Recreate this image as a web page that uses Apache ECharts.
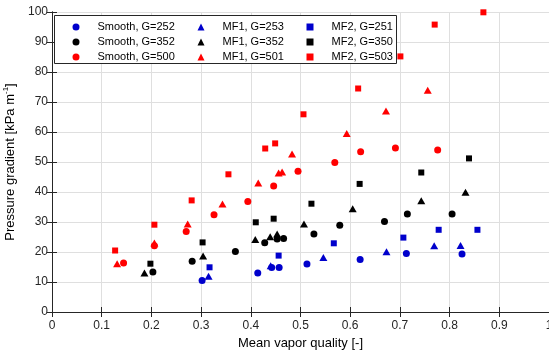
<!DOCTYPE html>
<html><head><meta charset="utf-8">
<script src="https://cdn.jsdelivr.net/npm/echarts@6/dist/echarts.min.js"></script>
<style>html,body{margin:0;padding:0;background:#fff}#c{width:549px;height:355px}</style>
</head><body><div id="c"></div>
<script>
const xName = 'Mean vapor quality [-]';
const yNameMain = 'Pressure gradient [kPa m';
const yNameSup = '-1';
const seriesNames = ['Smooth, G=252','Smooth, G=352','Smooth, G=500','MF1, G=253','MF1, G=352','MF1, G=501','MF2, G=251','MF2, G=350','MF2, G=503'];
const smooth252 = [[0.302,10.5],[0.414,13.0],[0.442,14.8],[0.457,14.8],[0.513,16.0],[0.620,17.5],[0.713,19.5],[0.825,19.3]];
const smooth352 = [[0.203,13.3],[0.282,16.9],[0.369,20.2],[0.428,23.1],[0.453,24.3],[0.466,24.5],[0.527,26.0],[0.579,28.9],[0.669,30.2],[0.715,32.7],[0.805,32.7]];
const smooth500 = [[0.144,16.3],[0.206,22.1],[0.270,26.8],[0.326,32.4],[0.394,36.8],[0.446,42.0],[0.495,46.9],[0.569,49.8],[0.621,53.4],[0.691,54.7],[0.776,54.0]];
const mf1_253 = [[0.315,11.9],[0.440,15.4],[0.546,18.2],[0.673,20.1],[0.769,22.1],[0.822,22.2]];
const mf1_352 = [[0.186,13.0],[0.304,18.7],[0.409,24.2],[0.439,25.1],[0.453,26.0],[0.507,29.3],[0.605,34.4],[0.743,37.1],[0.832,39.9]];
const mf1_501 = [[0.131,16.1],[0.206,23.0],[0.273,29.3],[0.343,36.0],[0.415,43.0],[0.456,46.3],[0.463,46.7],[0.483,52.7],[0.593,59.5],[0.672,67.0],[0.756,73.9]];
const mf2_251 = [[0.317,14.9],[0.456,18.8],[0.567,22.9],[0.707,24.8],[0.778,27.4],[0.856,27.4]];
const mf2_350 = [[0.198,16.1],[0.303,23.2],[0.410,29.9],[0.446,31.1],[0.522,36.1],[0.619,42.7],[0.743,46.5],[0.839,51.2]];
const mf2_503 = [[0.127,20.5],[0.206,29.1],[0.281,37.2],[0.355,45.9],[0.429,54.5],[0.449,56.2],[0.506,65.9],[0.616,74.5],[0.701,85.2],[0.770,95.8],[0.868,99.9]];
const seriesData = [smooth252,smooth352,smooth500,mf1_253,mf1_352,mf1_501,mf2_251,mf2_350,mf2_503];

const BLUE='#0000CC', BLACK='#000000', RED='#FF0000';
const colors=[BLUE,BLACK,RED,BLUE,BLACK,RED,BLUE,BLACK,RED];
const symbols=['circle','circle','circle','triangle','triangle','triangle','rect','rect','rect'];
const sizes=[7,7,7,[8,7],[8,7],[8,7],6,6,6];
const AX='#262626', GRID='#dfdfdf';

const chart = echarts.init(document.getElementById('c'));
const series = seriesNames.map((n,i)=>({
  name:n, type:'scatter', data:seriesData[i], symbol:symbols[i], symbolSize:sizes[i],
  itemStyle:{color:colors[i], opacity:1}, xAxisIndex:0, yAxisIndex:0, z:2
}));
function legendFor(idx,left){
  return {
    orient:'vertical', left:left, top:19.5, padding:0, itemGap:0, itemWidth:7, itemHeight:7,
    selectedMode:false, z:5,
    data: idx.map(i=>({name:seriesNames[i], icon:symbols[i]})),
    textStyle:{fontSize:11, color:'#000', fontFamily:'Liberation Sans, Arial', lineHeight:15, padding:[0,0,0,13]}
  };
}
const axisCommonX = {type:'value', min:0, max:1, interval:0.1};
chart.setOption({
  animation:false,
  textStyle:{fontFamily:'Liberation Sans, Arial'},
  grid:{left:52, top:12, width:497, height:300, containLabel:false, outerBoundsMode:'none'},
  graphic:[{type:'rect', z:3, shape:{x:54.5,y:15.5,width:342,height:48}, style:{fill:'#fff', stroke:AX, lineWidth:1}}],
  legend:[legendFor([0,1,2],72.5), legendFor([3,4,5],197.5), legendFor([6,7,8],306.5)],
  xAxis:[
    Object.assign({}, axisCommonX, {position:'bottom', name:xName, nameLocation:'middle', nameGap:25,
      nameTextStyle:{fontSize:13, color:'#000'},
      axisLine:{show:true, lineStyle:{color:AX, width:1}},
      axisTick:{show:true, inside:true, length:5, lineStyle:{color:AX}},
      axisLabel:{fontSize:12, color:AX, margin:8},
      splitLine:{show:true, lineStyle:{color:GRID, width:1}}}),
    Object.assign({}, axisCommonX, {position:'top',
      axisLine:{show:true, lineStyle:{color:AX, width:1}},
      axisTick:{show:true, inside:true, length:5, lineStyle:{color:AX}},
      axisLabel:{show:false}, splitLine:{show:false}})
  ],
  yAxis:[
    {type:'value', min:0, max:100, interval:10, position:'left',
      name:'{m|'+yNameMain+'}{s|'+yNameSup+'}{m|]}', nameLocation:'middle', nameGap:27, nameRotate:90,
      nameTextStyle:{color:'#000', rich:{m:{fontSize:13, color:'#000'}, s:{fontSize:8, color:'#000', padding:[0,0,9,0]}}},
      axisLine:{show:true, lineStyle:{color:AX, width:1}},
      axisTick:{show:true, inside:true, length:5, lineStyle:{color:AX}},
      axisLabel:{fontSize:12, color:AX, margin:4},
      splitLine:{show:true, lineStyle:{color:GRID, width:1}}},
    {type:'value', min:0, max:100, interval:10, position:'right',
      axisLine:{show:true, lineStyle:{color:AX, width:1}},
      axisTick:{show:true, inside:true, length:5, lineStyle:{color:AX}},
      axisLabel:{show:false}, splitLine:{show:false}}
  ],
  series: series
});
</script></body></html>
